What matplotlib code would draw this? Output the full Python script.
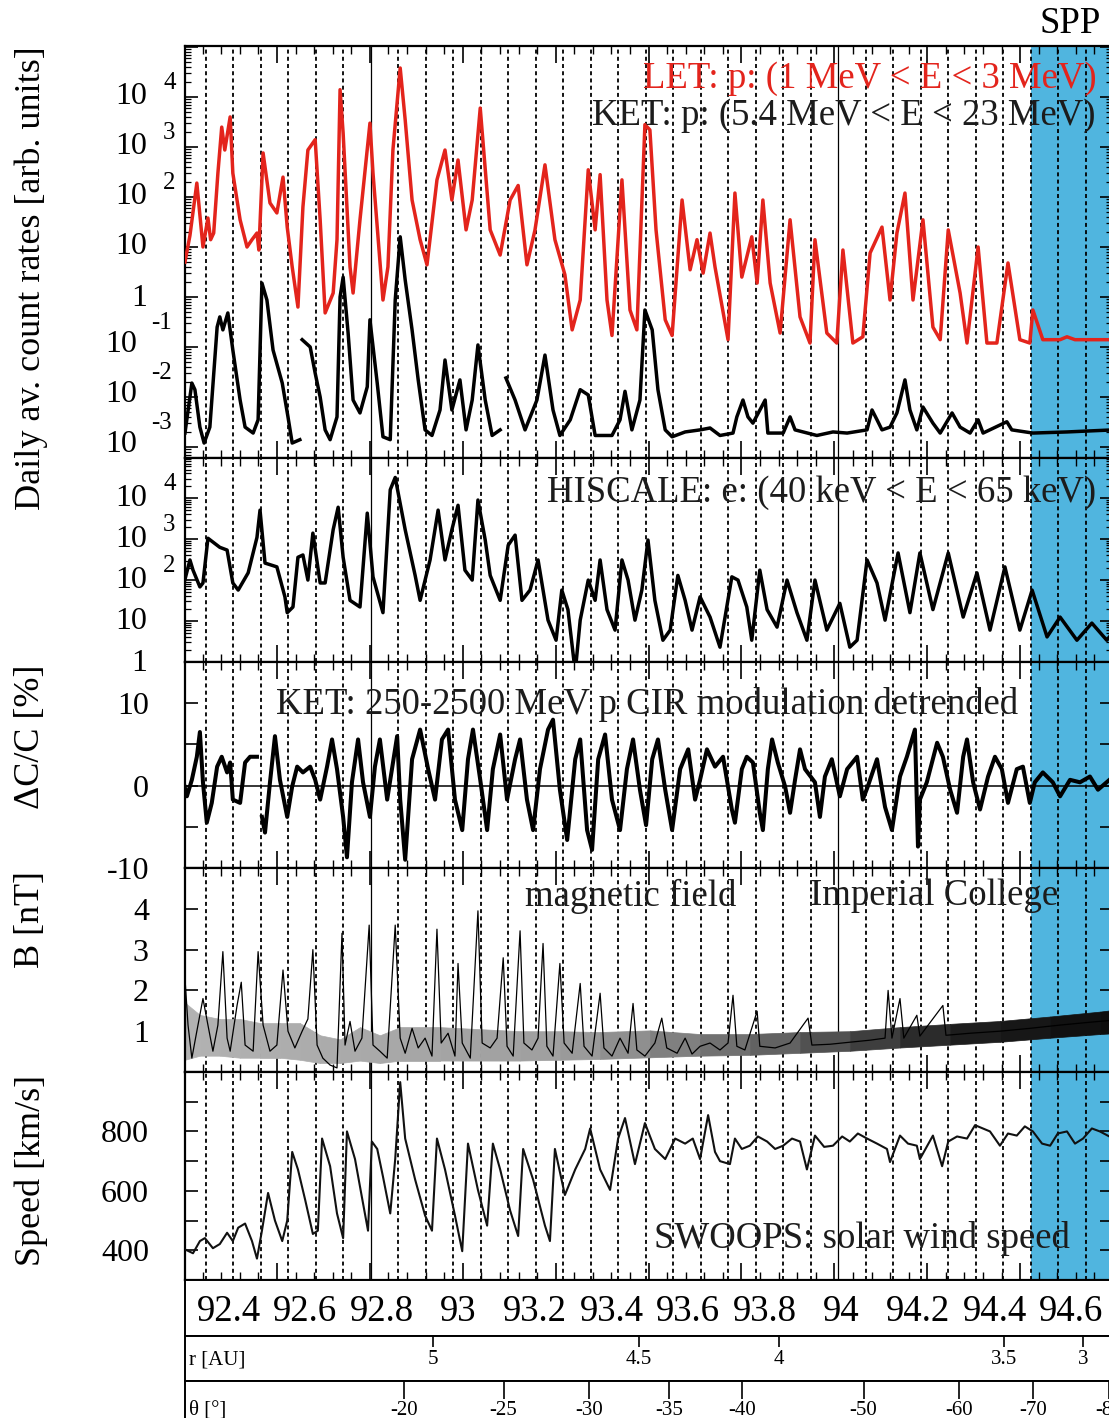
import numpy as np
import matplotlib
matplotlib.use("Agg")
import matplotlib.pyplot as plt
from matplotlib.ticker import FixedLocator, FixedFormatter, NullFormatter

plt.rcParams["font.family"] = ["Liberation Serif", "DejaVu Serif"]

# ---------------------------------------------------------------- data
# time in decimal years (19xx)
let_year = [92.286, 92.299, 92.317, 92.333, 92.346, 92.353, 92.361, 92.372, 92.382, 92.390,
            92.404, 92.411, 92.430, 92.448, 92.461, 92.474, 92.479, 92.490, 92.508, 92.526,
            92.542, 92.553, 92.566, 92.581, 92.594, 92.607, 92.626, 92.639, 92.652, 92.673,
            92.683, 92.691, 92.699, 92.717, 92.725, 92.743, 92.769, 92.777, 92.803, 92.816,
            92.829, 92.848, 92.861, 92.879, 92.900, 92.918, 92.944, 92.965, 92.983, 92.999,
            93.020, 93.036, 93.057, 93.083, 93.109, 93.135, 93.156, 93.179, 93.200, 93.226,
            93.252, 93.278, 93.297, 93.318, 93.339, 93.357, 93.370, 93.388, 93.401, 93.427,
            93.448, 93.466, 93.487, 93.500, 93.516, 93.540, 93.558, 93.584, 93.605, 93.623,
            93.639, 93.657, 93.670, 93.704, 93.722, 93.740, 93.766, 93.780, 93.795, 93.814,
            93.840, 93.866, 93.892, 93.918, 93.931, 93.962, 93.988, 94.004, 94.030, 94.056,
            94.075, 94.106, 94.127, 94.145, 94.166, 94.187, 94.213, 94.239, 94.258, 94.279,
            94.310, 94.328, 94.357, 94.380, 94.406, 94.435, 94.466, 94.492, 94.500, 94.526,
            94.571, 94.589, 94.610, 94.710]
let_rate = [5.0, 17, 190, 10, 38, 14, 19, 300, 2500, 870,
            4000, 300, 35, 10, 14, 19, 8.7, 760, 76, 48,
            250, 25, 4.0, 0.63, 63, 870, 1400, 35, 0.48, 1.2,
            14, 14000, 1900, 4.0, 1.2, 35, 3000, 300, 0.87, 4.0,
            870, 38000, 3500, 87, 14, 4.4, 220, 870, 87, 550,
            22, 87, 6000, 22, 6.9, 87, 170, 4.4, 22, 440,
            14, 2.8, 0.22, 0.87, 350, 22, 280, 0.87, 0.17, 220,
            0.55, 0.22, 2800, 2200, 22, 0.35, 0.17, 87, 3.5, 14,
            3.0, 19, 4.0, 0.14, 120, 2.5, 16, 1.9, 87, 1.9,
            0.19, 35, 0.40, 0.12, 14, 0.19, 0.12, 8.7, 0.12, 0.16,
            7.6, 25, 0.87, 19, 120, 0.87, 35, 0.25, 0.14, 22,
            1.2, 0.12, 10, 0.12, 0.12, 4.8, 0.14, 0.12, 0.55, 0.14,
            0.14, 0.16, 0.14, 0.14]

nan = np.nan
ket_year = [92.286, 92.304, 92.312, 92.325, 92.336, 92.351, 92.370, 92.377, 92.385, 92.398,
            92.411, 92.430, 92.443, 92.464, 92.477, 92.487, 92.500, 92.516, 92.540, 92.555,
            92.566, 92.586, 92.589, 92.592, 92.613, 92.626, 92.639, 92.652, 92.665, 92.683,
            92.691, 92.699, 92.712, 92.725, 92.743, 92.762, 92.769, 92.788, 92.803, 92.822,
            92.835, 92.848, 92.861, 92.879, 92.895, 92.913, 92.931, 92.952, 92.965, 92.983,
            93.004, 93.020, 93.036, 93.051, 93.070, 93.088, 93.109, 93.116, 93.124, 93.148,
            93.174, 93.205, 93.226, 93.247, 93.265, 93.292, 93.318, 93.339, 93.357, 93.401,
            93.422, 93.435, 93.453, 93.474, 93.487, 93.506, 93.521, 93.540, 93.558, 93.592,
            93.631, 93.657, 93.683, 93.717, 93.727, 93.743, 93.756, 93.769, 93.801, 93.808,
            93.848, 93.866, 93.879, 93.936, 93.978, 94.015, 94.067, 94.080, 94.093, 94.106,
            94.127, 94.145, 94.166, 94.179, 94.197, 94.213, 94.239, 94.258, 94.289, 94.310,
            94.336, 94.357, 94.370, 94.432, 94.445, 94.500, 94.589, 94.710]
ket_rate = [1.9e-3, 0.019, 0.014, 2.5e-3, 1.2e-3, 2.5e-3, 0.25, 0.40, 0.22, 0.48,
            0.087, 8.7e-3, 2.5e-3, 1.9e-3, 3.5e-3, 1.9, 0.87, 0.087, 0.019, 4.0e-3,
            1.2e-3, 1.4e-3, nan, 0.14, 0.10, 0.030, 0.010, 2.2e-3, 1.4e-3, 4.0e-3,
            1.0, 2.5, 0.19, 8.7e-3, 4.8e-3, 0.016, 0.35, 0.019, 1.6e-3, 1.4e-3,
            0.87, 16, 2.2, 0.22, 0.022, 2.2e-3, 1.7e-3, 5.5e-3, 0.055, 5.5e-3,
            0.022, 2.2e-3, 8.7e-3, 0.11, 8.7e-3, 1.7e-3, 2.2e-3, nan, 0.024, 8.7e-3,
            2.2e-3, 8.7e-3, 0.069, 5.5e-3, 1.7e-3, 3.5e-3, 0.014, 0.011, 1.7e-3, 1.7e-3,
            3.5e-3, 0.013, 2.2e-3, 8.7e-3, 0.55, 0.22, 0.014, 2.2e-3, 1.6e-3, 2.0e-3,
            2.2e-3, 2.4e-3, 1.7e-3, 1.9e-3, 4.0e-3, 8.7e-3, 4.0e-3, 3.0e-3, 8.7e-3, 1.9e-3,
            1.9e-3, 4.0e-3, 2.2e-3, 1.7e-3, 2.0e-3, 1.9e-3, 2.2e-3, 5.5e-3, 3.5e-3, 2.2e-3,
            2.5e-3, 4.8e-3, 0.022, 5.5e-3, 2.2e-3, 6.3e-3, 3.0e-3, 1.9e-3, 4.8e-3, 2.5e-3,
            1.9e-3, 3.5e-3, 1.9e-3, 3.2e-3, 2.2e-3, 1.9e-3, 2.0e-3, 2.2e-3]

his_year = [92.281, 92.299, 92.307, 92.325, 92.333, 92.346, 92.377, 92.396, 92.411, 92.425,
            92.451, 92.474, 92.482, 92.495, 92.526, 92.547, 92.553, 92.568, 92.581, 92.594,
            92.607, 92.620, 92.639, 92.652, 92.673, 92.686, 92.699, 92.717, 92.743, 92.762,
            92.777, 92.803, 92.822, 92.835, 92.861, 92.887, 92.900, 92.926, 92.947, 92.965,
            92.983, 92.999, 93.017, 93.036, 93.051, 93.070, 93.083, 93.109, 93.130, 93.148,
            93.166, 93.187, 93.208, 93.234, 93.255, 93.270, 93.286, 93.305, 93.318, 93.339,
            93.357, 93.370, 93.388, 93.409, 93.427, 93.443, 93.461, 93.479, 93.495, 93.513,
            93.534, 93.553, 93.573, 93.592, 93.610, 93.631, 93.657, 93.683, 93.714, 93.730,
            93.753, 93.766, 93.787, 93.806, 93.832, 93.858, 93.884, 93.910, 93.931, 93.962,
            93.996, 94.022, 94.041, 94.067, 94.093, 94.114, 94.148, 94.179, 94.205, 94.239,
            94.279, 94.318, 94.354, 94.388, 94.427, 94.466, 94.498, 94.537, 94.571, 94.615,
            94.654, 94.693, 94.710]
his_rate = [68, 310, 175, 68, 85, 1050, 630, 540, 85, 57,
            150, 1100, 5100, 260, 210, 39, 16, 22, 360, 410,
            100, 1400, 85, 85, 1700, 6000, 360, 32, 22, 4300,
            120, 16, 16000, 32000, 1700, 130, 32, 310, 5100, 310,
            1700, 6700, 175, 100, 9000, 950, 130, 32, 710, 1250,
            32, 57, 310, 10.5, 3.4, 57, 19, 0.57, 10.5, 100,
            32, 310, 19, 6.0, 310, 100, 10.5, 57, 950, 32,
            3.4, 6.0, 130, 32, 6.0, 39, 12.5, 2.3, 120, 100,
            22, 3.4, 175, 19, 7.1, 100, 16, 3.4, 100, 6.0,
            27, 2.3, 3.4, 310, 85, 10.5, 460, 16, 460, 19,
            460, 12.5, 150, 6.0, 210, 6.0, 57, 4.1, 12.5, 3.4,
            8.9, 3.4, 5.4]

dcc_year = [92.281, 92.291, 92.304, 92.317, 92.325, 92.333, 92.343, 92.356, 92.370, 92.382,
            92.396, 92.404, 92.411, 92.430, 92.443, 92.456, 92.474, 92.480, 92.487, 92.495,
            92.508, 92.521, 92.534, 92.553, 92.566, 92.579, 92.594, 92.613, 92.626, 92.639,
            92.657, 92.670, 92.683, 92.699, 92.709, 92.722, 92.738, 92.751, 92.769, 92.782,
            92.795, 92.814, 92.840, 92.848, 92.861, 92.879, 92.900, 92.921, 92.939, 92.957,
            92.973, 92.991, 93.010, 93.025, 93.038, 93.057, 93.075, 93.090, 93.109, 93.127,
            93.148, 93.161, 93.179, 93.195, 93.213, 93.234, 93.247, 93.265, 93.284, 93.305,
            93.318, 93.336, 93.349, 93.365, 93.383, 93.401, 93.422, 93.440, 93.456, 93.474,
            93.490, 93.506, 93.521, 93.540, 93.558, 93.579, 93.600, 93.618, 93.631, 93.649,
            93.670, 93.691, 93.714, 93.722, 93.740, 93.753, 93.769, 93.787, 93.795, 93.808,
            93.819, 93.834, 93.853, 93.866, 93.879, 93.892, 93.905, 93.931, 93.944, 93.957,
            93.975, 93.996, 94.015, 94.041, 94.056, 94.069, 94.093, 94.114, 94.132, 94.153,
            94.171, 94.192, 94.200, 94.205, 94.223, 94.250, 94.265, 94.284, 94.302, 94.318,
            94.328, 94.344, 94.362, 94.383, 94.401, 94.419, 94.435, 94.458, 94.474, 94.492,
            94.505, 94.526, 94.552, 94.571, 94.597, 94.623, 94.649, 94.670, 94.710]
dcc_pct = [0.7, -1.3, 0.7, 3.5, 6.5, 0.4, -4.5, -2.1, 2.3, 3.5,
           1.6, 2.8, -1.7, -2.1, 2.8, 3.5, 3.5, nan, -3.8, -5.7,
           0.4, 6.0, 0.7, -3.8, -0.1, 2.3, 1.6, 2.3, 0.7, -1.7,
           2.3, 5.6, 2.0, -3.8, -8.7, 0.4, 5.6, 0.4, -3.8, 2.3,
           5.6, -1.7, 6.0, -1.7, -9.0, 3.2, 6.8, 2.0, -1.7, 5.6,
           6.8, -1.7, -5.4, 3.2, 6.8, 0.7, -5.4, 2.0, 6.2, -1.7,
           3.2, 5.6, -1.7, -5.4, 2.0, 6.8, 8.0, -0.5, -6.6, 3.2,
           5.6, -5.4, -7.8, 3.2, 6.2, -1.7, -5.4, 2.0, 5.6, -0.5,
           -4.8, 3.2, 5.6, -0.5, -5.4, 2.0, 4.4, -1.7, 0.7, 4.4,
           2.3, 3.5, -2.9, -4.5, 2.0, 3.5, 2.8, -3.3, -5.4, 2.0,
           5.6, 2.8, -0.1, -3.3, 0.7, 4.4, 2.0, 0.4, -3.8, 1.1,
           3.2, -1.3, 2.0, 3.5, -1.7, -0.1, 3.2, -2.6, -5.4, 1.1,
           3.5, 6.8, -7.4, -1.7, 0.4, 5.2, 3.5, -0.5, -3.3, 3.5,
           5.6, 0.4, -2.9, 1.1, 3.5, 2.0, -2.1, 2.0, 2.3, -2.1,
           0.4, 1.6, 0.4, -1.3, 0.7, 0.4, 1.1, -0.5, 1.1]

b_year = [92.286, 92.294, 92.304, 92.317, 92.333, 92.346, 92.359, 92.372, 92.385, 92.396,
          92.404, 92.422, 92.433, 92.443, 92.464, 92.477, 92.490, 92.508, 92.526, 92.542,
          92.555, 92.573, 92.592, 92.607, 92.620, 92.631, 92.646, 92.665, 92.683, 92.696,
          92.704, 92.717, 92.730, 92.748, 92.767, 92.777, 92.795, 92.814, 92.835, 92.848,
          92.861, 92.879, 92.895, 92.913, 92.931, 92.944, 92.955, 92.973, 92.991, 92.999,
          93.010, 93.031, 93.051, 93.062, 93.083, 93.101, 93.117, 93.127, 93.143, 93.161,
          93.171, 93.192, 93.208, 93.221, 93.231, 93.247, 93.265, 93.276, 93.297, 93.318,
          93.328, 93.349, 93.370, 93.380, 93.401, 93.422, 93.443, 93.456, 93.466, 93.487,
          93.513, 93.531, 93.544, 93.571, 93.592, 93.610, 93.631, 93.657, 93.683, 93.704,
          93.717, 93.727, 93.748, 93.780, 93.787, 93.827, 93.866, 93.913, 93.923, 93.970,
          94.022, 94.075, 94.114, 94.122, 94.132, 94.153, 94.163, 94.197, 94.205, 94.265,
          94.273, 94.336, 94.414, 94.492, 94.571, 94.649, 94.710]
b_nT = [2.3, 1.15, 0.34, 1.0, 1.8, 1.15, 0.51, 1.15, 2.95, 0.83,
        0.51, 1.63, 2.2, 0.66, 0.51, 2.95, 1.15, 0.51, 0.66, 2.5,
        1.0, 0.59, 1.0, 1.3, 3.0, 0.66, 0.34, 0.17, 0.10, 3.4,
        0.66, 1.24, 0.51, 0.83, 3.6, 0.66, 0.51, 0.34, 3.6, 0.83,
        0.46, 1.07, 0.59, 0.83, 0.39, 3.5, 0.71, 0.95, 0.39, 2.66,
        0.71, 0.34, 3.95, 0.71, 0.59, 0.83, 2.8, 0.63, 0.39, 3.46,
        0.71, 0.54, 0.83, 3.15, 0.63, 0.39, 2.66, 0.71, 0.46, 2.17,
        0.63, 0.39, 1.93, 0.59, 0.39, 0.83, 0.46, 1.68, 0.54, 0.39,
        0.71, 1.32, 0.59, 0.46, 0.83, 0.44, 0.63, 0.71, 0.54, 0.71,
        1.88, 0.63, 0.54, 1.49, 0.63, 0.59, 0.71, 1.32, 0.66, 0.68,
        0.73, 0.78, 0.83, 2.0, 0.83, 1.8, 0.83, 1.39, 0.88, 1.63,
        0.9, 0.95, 1.0, 1.07, 1.15, 1.22, 1.27]

# envelope of the high-resolution field fluctuations
b_band_year = [92.286, 92.325, 92.377, 92.430, 92.482, 92.534, 92.586, 92.639, 92.691, 92.743,
               92.795, 92.848, 92.952, 93.057, 93.161, 93.265, 93.370, 93.500, 93.631, 93.761,
               93.892, 94.022, 94.153, 94.284, 94.414, 94.545, 94.675, 94.710]
b_band_lo = [0.30, 0.40, 0.40, 0.35, 0.35, 0.35, 0.30, 0.22, 0.22, 0.28,
             0.22, 0.28, 0.28, 0.28, 0.28, 0.30, 0.32, 0.36, 0.40, 0.42,
             0.47, 0.52, 0.60, 0.67, 0.74, 0.84, 0.93, 0.95]
b_band_hi = [1.70, 1.40, 1.30, 1.30, 1.20, 1.20, 1.20, 0.90, 0.80, 1.10,
             0.90, 1.10, 1.10, 1.05, 1.00, 1.00, 0.98, 1.02, 0.93, 0.93,
             0.98, 1.00, 1.10, 1.18, 1.25, 1.36, 1.48, 1.52]

sp_year = [92.286, 92.307, 92.325, 92.338, 92.359, 92.377, 92.396, 92.411, 92.425, 92.443,
           92.461, 92.474, 92.487, 92.503, 92.521, 92.540, 92.553, 92.566, 92.581, 92.600,
           92.620, 92.633, 92.644, 92.665, 92.683, 92.699, 92.709, 92.730, 92.748, 92.764,
           92.774, 92.788, 92.803, 92.822, 92.835, 92.848, 92.861, 92.887, 92.913, 92.931,
           92.944, 92.965, 92.991, 93.010, 93.025, 93.051, 93.075, 93.090, 93.109, 93.135,
           93.156, 93.169, 93.195, 93.226, 93.239, 93.252, 93.278, 93.305, 93.331, 93.344,
           93.370, 93.396, 93.417, 93.435, 93.461, 93.487, 93.513, 93.540, 93.566, 93.592,
           93.612, 93.631, 93.652, 93.670, 93.683, 93.709, 93.722, 93.740, 93.761, 93.782,
           93.806, 93.827, 93.848, 93.871, 93.892, 93.910, 93.931, 93.955, 93.978, 94.002,
           94.022, 94.043, 94.067, 94.093, 94.119, 94.127, 94.153, 94.174, 94.197, 94.205,
           94.239, 94.263, 94.279, 94.302, 94.328, 94.349, 94.388, 94.414, 94.435, 94.458,
           94.479, 94.500, 94.524, 94.545, 94.565, 94.589, 94.610, 94.631, 94.654, 94.675,
           94.710]
sp_kms = [403, 390, 431, 441, 407, 421, 459, 431, 476, 490,
          431, 372, 466, 593, 500, 431, 500, 731, 672, 569,
          455, 466, 776, 683, 524, 441, 800, 707, 579, 466,
          766, 741, 648, 524, 707, 966, 776, 638, 517, 466,
          776, 672, 517, 397, 759, 603, 483, 759, 672, 534,
          448, 741, 638, 483, 431, 741, 586, 672, 741, 810,
          672, 603, 776, 845, 690, 828, 741, 707, 776, 759,
          776, 707, 855, 731, 700, 690, 776, 741, 752, 783,
          766, 741, 752, 776, 766, 672, 786, 748, 752, 783,
          766, 793, 776, 759, 741, 697, 786, 759, 752, 707,
          786, 683, 766, 783, 776, 821, 800, 752, 793, 786,
          817, 800, 759, 752, 793, 800, 759, 776, 810, 800,
          776]

year_labels = [92.4, 92.6, 92.8, 93.0, 93.2, 93.4, 93.6, 93.8, 94.0, 94.2, 94.4, 94.6]
r_labels = ["5", "4.5", "4", "3.5", "3"]
r_tick_year = [92.934, 93.471, 93.836, 94.424, 94.631]
theta_labels = ["-20", "-25", "-30", "-35", "-40", "-50", "-60", "-70", "-80"]
theta_tick_year = [92.858, 93.118, 93.341, 93.550, 93.740, 94.058, 94.307, 94.500, 94.698]

# time axis layout
X_LEFT, X_RIGHT = 92.2861, 94.7066
ROT_START, ROT_STEP = 92.3402, 0.071802       # solar-rotation markers
TICK_START, TICK_MAJOR, TICK_MINOR = 92.5263, 0.24256, 0.048512
SPP_START = 94.4942

RED = "#e3241c"
BLUE = "#50b5df"
INK = "#1c1c1c"
TXT = 26.5

# ---------------------------------------------------------------- figure
W, H, DPI = 1109, 1418, 100
fig = plt.figure(figsize=(W / DPI, H / DPI), dpi=DPI)


def add_ax(top, bottom, left=185, right=1112):
    return fig.add_axes([left / W, 1 - bottom / H, (right - left) / W, (bottom - top) / H])


def ftext(x, y, s, **kw):
    fig.text(x / W, 1 - y / H, s, **kw)


ax1 = add_ax(46, 458)
ax2 = add_ax(458, 662)
ax3 = add_ax(662, 868)
ax4 = add_ax(868, 1072)
ax5 = add_ax(1072, 1280)
panels = [ax1, ax2, ax3, ax4, ax5]

major_x = np.arange(TICK_START - 2 * TICK_MAJOR, X_RIGHT, TICK_MAJOR)
minor_x = np.arange(TICK_START - 2 * TICK_MAJOR, X_RIGHT, TICK_MINOR)
rot_x = ROT_START + ROT_STEP * np.arange(40)
rot_x = rot_x[rot_x < X_RIGHT]

for ax in panels:
    ax.set_xlim(X_LEFT, X_RIGHT)
    ax.axvspan(SPP_START, X_RIGHT + 1, color=BLUE, lw=0, zorder=0)
    for i, xr in enumerate(rot_x):
        if i in (6, 23):
            ax.axvline(xr, color="k", lw=0.9, zorder=1.5)
        else:
            ax.axvline(xr, color="k", lw=1.3, ls=(0, (2.2, 1.8)), zorder=1.5)
    ax.xaxis.set_major_locator(FixedLocator(major_x))
    ax.xaxis.set_minor_locator(FixedLocator(minor_x))
    ax.tick_params(axis="x", which="major", direction="in", top=True, bottom=True,
                   length=12, width=1.2, labelbottom=False)
    ax.tick_params(axis="x", which="minor", direction="in", top=True, bottom=True,
                   length=6, width=1.0)
    ax.tick_params(axis="y", which="major", direction="in", left=True, right=True,
                   length=9, width=1.2, labelsize=23, pad=26)
    ax.tick_params(axis="y", which="minor", direction="in", left=True, right=True,
                   length=4.5, width=0.9)
    for s in ax.spines.values():
        s.set_linewidth(1.6)


def log_axis(ax, lo, hi):
    ax.set_yscale("log")
    ax.set_ylim(lo, hi)
    ax.yaxis.set_major_locator(FixedLocator(10.0 ** np.arange(-5, 7)))
    ax.yaxis.set_minor_locator(FixedLocator([m * 10.0 ** k for k in range(-5, 7) for m in range(2, 10)]))
    ax.yaxis.set_major_formatter(NullFormatter())
    ax.yaxis.set_minor_formatter(NullFormatter())


def log_labels(ax, exps, size=23):
    kw = dict(xycoords=("axes fraction", "data"), textcoords="offset pixels", va="center")
    for k in exps:
        y = 10.0 ** k
        if k == 0:
            ax.annotate("1", xy=(0, y), xytext=(-38, -2), ha="right", fontsize=size, **kw)
        elif k == 1:
            ax.annotate("10", xy=(0, y), xytext=(-38, 0), ha="right", fontsize=size, **kw)
        elif k > 1:
            ax.annotate("10", xy=(0, y), xytext=(-38, 0), ha="right", fontsize=size, **kw)
            ax.annotate(str(k), xy=(0, y), xytext=(-22, 14), ha="left", fontsize=size * 0.78, **kw)
        else:
            ax.annotate("10", xy=(0, y), xytext=(-48, 3), ha="right", fontsize=size, **kw)
            ax.annotate(str(k), xy=(0, y), xytext=(-34, 24), ha="left", fontsize=size * 0.78, **kw)


# panel 1: LET / KET protons
log_axis(ax1, 10 ** -3.22, 10 ** 5.02)
log_labels(ax1, range(-3, 5))
ax1.plot(let_year, let_rate, color=RED, lw=2.5, zorder=3)
ax1.plot(ket_year, ket_rate, color="k", lw=2.5, zorder=3)
ftext(870, 79, "LET: p: (1 MeV < E < 3 MeV)", color=RED, fontsize=TXT, ha="center", va="center", zorder=5)
ftext(844, 116, "KET: p: (5.4 MeV < E < 23 MeV)", color=INK, fontsize=TXT, ha="center", va="center", zorder=5)

# panel 2: HISCALE electrons
log_axis(ax2, 1.0, 10 ** 4.98)
log_labels(ax2, range(0, 5))
ax2.plot(his_year, his_rate, color="k", lw=2.5, zorder=3)
ftext(822, 493, "HISCALE: e: (40 keV < E < 65 keV)", color=INK, fontsize=TXT, ha="center", va="center", zorder=5)

# panel 3: CIR modulation of galactic cosmic rays
ax3.set_ylim(-10, 15)
ax3.yaxis.set_major_locator(FixedLocator([-10, -5, 0, 5, 10, 15]))
ax3.yaxis.set_major_formatter(FixedFormatter(["-10", "", "0", "", "10", ""]))
ax3.axhline(0, color="k", lw=1.1, zorder=2)
ax3.plot(dcc_year, dcc_pct, color="k", lw=2.9, zorder=3)
ftext(647, 704, "KET: 250-2500 MeV p CIR modulation detrended", color=INK, fontsize=TXT,
      ha="center", va="center", zorder=5)

# panel 4: magnetic field magnitude
ax4.set_ylim(0, 5)
ax4.yaxis.set_major_locator(FixedLocator([1, 2, 3, 4]))
ax4.yaxis.set_major_formatter(FixedFormatter(["1", "2", "3", "4"]))
band_x = np.array(b_band_year)
shade = np.interp(band_x, [92.3, 93.3, 93.9, 94.3, 94.7], [0.7, 0.62, 0.35, 0.12, 0.05])
for i in range(len(band_x) - 1):
    g = 0.5 * (shade[i] + shade[i + 1])
    ax4.fill_between(band_x[i:i + 2], b_band_lo[i:i + 2], b_band_hi[i:i + 2],
                     facecolor=(g, g, g), edgecolor=(g, g, g), lw=0.5, zorder=2)
ax4.plot(b_year, b_nT, color="k", lw=0.9, zorder=3)
ftext(631, 896, "magnetic field", color=INK, fontsize=TXT, ha="center", va="center", zorder=5)
ftext(934, 896, "Imperial College", color=INK, fontsize=TXT, ha="center", va="center", zorder=5)

# panel 5: solar wind speed
ax5.set_ylim(300, 1000)
ax5.yaxis.set_major_locator(FixedLocator([400, 500, 600, 700, 800, 900]))
ax5.yaxis.set_major_formatter(FixedFormatter(["400", "", "600", "", "800", ""]))
ax5.plot(sp_year, sp_kms, color="#111111", lw=1.5, zorder=3)
ftext(862, 1238, "SWOOPS: solar wind speed", color=INK, fontsize=TXT, ha="center", va="center", zorder=5)

# axis titles
ftext(31, 278, "Daily av. count rates [arb. units]", fontsize=26, rotation=90, ha="center", va="center")
ftext(31, 737, "ΔC/C [%]", fontsize=26, rotation=90, ha="center", va="center")
ftext(31, 920, "B [nT]", fontsize=26, rotation=90, ha="center", va="center")
ftext(31, 1170, "Speed [km/s]", fontsize=26, rotation=90, ha="center", va="center")
ftext(1070, 24, "SPP", fontsize=TXT, ha="center", va="center")

# ---------------------------------------------------------------- lower scales
axy = add_ax(1280, 1336)
axr = add_ax(1336, 1381)
axt = add_ax(1381, 1440)
for ax in (axy, axr, axt):
    ax.set_xlim(X_LEFT, X_RIGHT)
    ax.set_ylim(0, 1)
    ax.set_yticks([])
    for s in ax.spines.values():
        s.set_linewidth(1.4)
    ax.spines["right"].set_visible(False)

axy.set_xticks([])
for yv in year_labels:
    axy.text(yv, 0.44, f"{yv:g}", transform=axy.get_xaxis_transform(), ha="center", va="center",
             fontsize=26.5)

axr.set_xticks(r_tick_year)
axr.tick_params(axis="x", direction="in", top=True, bottom=False, labelbottom=False,
                length=7.7, width=1.2)
for xv, lab in zip(r_tick_year, r_labels):
    axr.text(xv, 0.47, lab, transform=axr.get_xaxis_transform(), ha="center", va="center", fontsize=15)
axr.text(0.004, 0.47, "r [AU]", transform=axr.transAxes, ha="left", va="center", fontsize=15)

axt.set_xticks(theta_tick_year)
axt.tick_params(axis="x", direction="in", top=True, bottom=False, labelbottom=False,
                length=13, width=1.2)
axt.spines["bottom"].set_visible(False)
for xv, lab in zip(theta_tick_year, theta_labels):
    axt.text(xv, 0.50, lab, transform=axt.get_xaxis_transform(), ha="center", va="center", fontsize=15)
axt.text(0.004, 0.50, "θ [°]", transform=axt.transAxes, ha="left", va="center", fontsize=15)

fig.savefig("out.png", dpi=DPI)
